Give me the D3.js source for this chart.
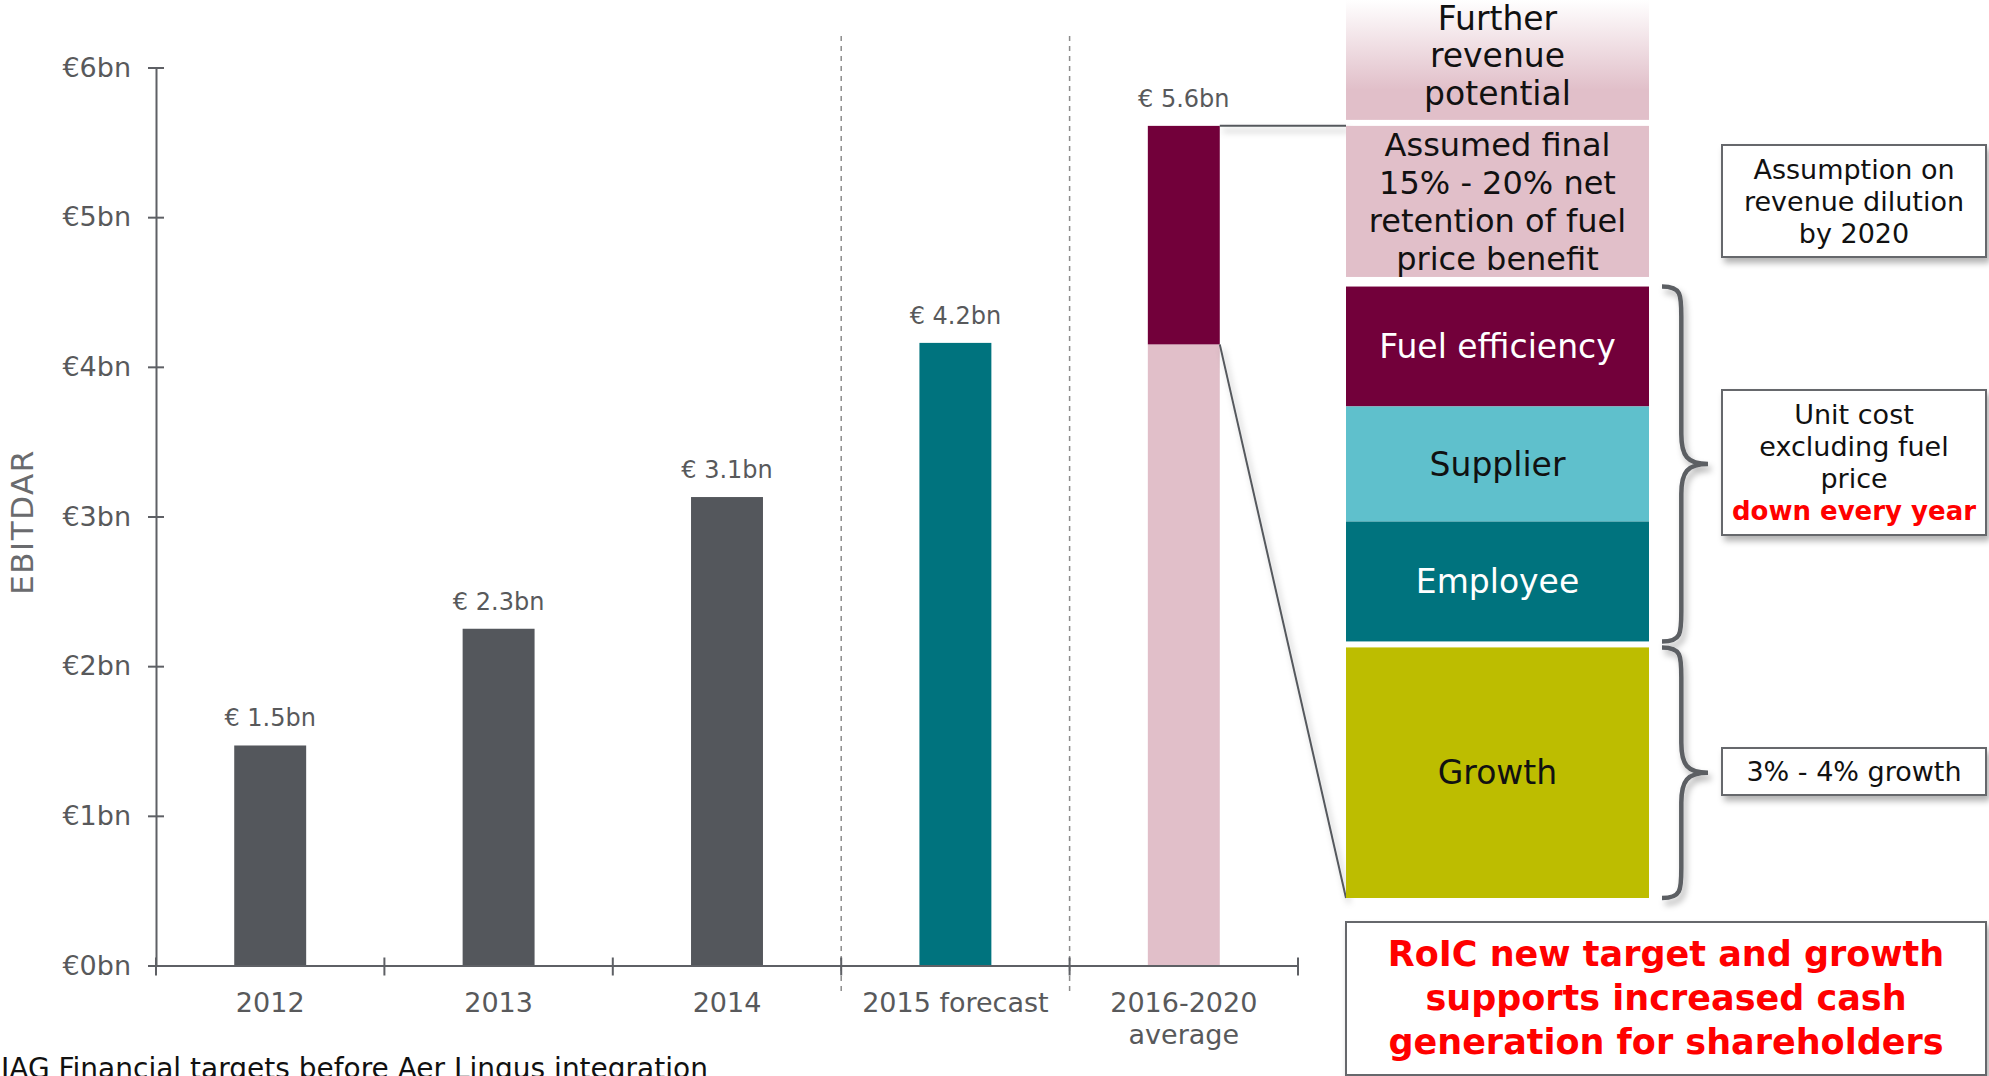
<!DOCTYPE html>
<html>
<head>
<meta charset="utf-8">
<script src="https://cdn.jsdelivr.net/npm/d3@7"></script>
<style>
  body { margin: 0; background: #fff; }
  svg { display: block; font-family: "DejaVu Sans", sans-serif; }
</style>
</head>
<body>
<svg id="chart" width="1989" height="1076"></svg>
<script>
// ---- data ----
const categories = ["2012", "2013", "2014", "2015 forecast", "2016-2020\naverage"];
const baseValues = [1.47, 2.25, 3.13, 4.16, 4.15];   // EBITDAR, €bn
const fuelBenefit = [0, 0, 0, 0, 1.46];              // stacked on top of last bar
const valueLabels = ["€ 1.5bn", "€ 2.3bn", "€ 3.1bn", "€ 4.2bn", "€ 5.6bn"];
const yTicks = [0, 1, 2, 3, 4, 5, 6];

const panelLabels = [
  ["Further", "revenue", "potential"],
  ["Assumed final", "15% - 20% net", "retention of fuel", "price benefit"],
  ["Fuel efficiency"],
  ["Supplier"],
  ["Employee"],
  ["Growth"]
];
const panelUnits = [1, 1.26, 1, 0.96, 1, 2.09];   // relative row heights
const panelGapUnits = [0.05, 0.08, 0, 0, 0.05];

const noteLines = [
  [{t: "Assumption on"}, {t: "revenue dilution"}, {t: "by 2020"}],
  [{t: "Unit cost"}, {t: "excluding fuel"}, {t: "price"}, {t: "down every year", red: true}],
  [{t: "3% - 4% growth"}]
];
const summaryLines = ["RoIC new target and growth", "supports increased cash", "generation for shareholders"];
const footnote = "IAG Financial targets before Aer Lingus integration";

// ---- styling ----
const C = {
  gray: "#54575c", teal: "#00737e", maroon: "#72003a", pink: "#e1bfc9",
  blue: "#5fc0cc", green: "#bdbd00", axis: "#5e6065", text: "#58595b", red: "#ff0000"
};
const baseColors = [C.gray, C.gray, C.gray, C.teal, C.pink];
const panelFills = ["url(#fadePink)", C.pink, C.maroon, C.blue, C.teal, C.green];
const panelText = ["#111", "#111", "#fff", "#111", "#fff", "#111"];

const svg = d3.select("#chart");
const defs = svg.append("defs");

const grad = defs.append("linearGradient").attr("id", "fadePink")
  .attr("x1", 0).attr("y1", 0).attr("x2", 0).attr("y2", 1);
grad.append("stop").attr("offset", "0%").attr("stop-color", "#ffffff");
grad.append("stop").attr("offset", "75%").attr("stop-color", C.pink);
grad.append("stop").attr("offset", "100%").attr("stop-color", C.pink);

const shadow = defs.append("filter").attr("id", "shadow")
  .attr("x", "-10%").attr("y", "-10%").attr("width", "130%").attr("height", "140%");
shadow.append("feDropShadow").attr("dx", 3).attr("dy", 5).attr("stdDeviation", 3)
  .attr("flood-color", "#000").attr("flood-opacity", 0.3);

// ---- scales ----
const x = d3.scaleBand().domain(categories).range([156, 1298])
  .paddingInner(0.685).paddingOuter(0.3425);
const y = d3.scaleLinear().domain([0, 6]).range([965.5, 67.5]);

// ---- separators ----
const bounds = d3.range(categories.length + 1).map(i => x.range()[0] + i * x.step());
svg.selectAll("line.sep").data([bounds[3], bounds[4]]).join("line")
  .attr("class", "sep")
  .attr("x1", d => d).attr("x2", d => d)
  .attr("y1", 36).attr("y2", 996)
  .attr("stroke", "#8c8c8c").attr("stroke-width", 1.5).attr("stroke-dasharray", "5,5");

// ---- bars ----
svg.selectAll("rect.bar").data(categories).join("rect")
  .attr("class", "bar")
  .attr("x", d => x(d))
  .attr("y", (d, i) => y(baseValues[i]))
  .attr("width", x.bandwidth())
  .attr("height", (d, i) => y(0) - y(baseValues[i]))
  .attr("fill", (d, i) => baseColors[i]);

svg.selectAll("rect.top").data(categories.filter((d, i) => fuelBenefit[i] > 0)).join("rect")
  .attr("class", "top")
  .attr("x", d => x(d))
  .attr("y", d => { const i = categories.indexOf(d); return y(baseValues[i] + fuelBenefit[i]); })
  .attr("width", x.bandwidth())
  .attr("height", d => { const i = categories.indexOf(d); return y(baseValues[i]) - y(baseValues[i] + fuelBenefit[i]); })
  .attr("fill", C.maroon);

svg.selectAll("text.val").data(categories).join("text")
  .attr("class", "val")
  .attr("x", d => x(d) + x.bandwidth() / 2)
  .attr("y", (d, i) => y(baseValues[i] + fuelBenefit[i]) - 19)
  .attr("text-anchor", "middle")
  .attr("font-size", 24).attr("fill", C.text)
  .text((d, i) => valueLabels[i]);

// ---- axes ----
const yAxis = svg.append("g").attr("transform", "translate(156,0)")
  .call(d3.axisLeft(y).tickValues(yTicks).tickFormat(d => `€${d}bn`)
    .tickSize(8).tickSizeOuter(0).tickPadding(17));
yAxis.selectAll(".tick").append("line").attr("x2", 8);
yAxis.selectAll("line, path").attr("stroke", C.axis).attr("stroke-width", 2);
yAxis.selectAll("text").attr("font-size", 27).attr("fill", C.text)
  .attr("font-family", "DejaVu Sans, sans-serif");

const xAxis = svg.append("g").attr("transform", `translate(0,${y(0)})`)
  .call(d3.axisBottom(x).tickSize(0).tickSizeOuter(0));
xAxis.select(".domain").attr("stroke", C.axis).attr("stroke-width", 2);
xAxis.selectAll(".tick text").each(function (d) {
  const t = d3.select(this).text(null)
    .attr("y", 0).attr("dy", null)
    .attr("font-size", 27).attr("fill", C.text)
    .attr("font-family", "DejaVu Sans, sans-serif");
  d.split("\n").forEach((line, k) => {
    t.append("tspan").attr("x", 0).attr("y", 46 + k * 32).text(line);
  });
});
xAxis.selectAll("line.bound").data(bounds).join("line")
  .attr("class", "bound")
  .attr("x1", d => d).attr("x2", d => d)
  .attr("y1", -8).attr("y2", 10)
  .attr("stroke", C.axis).attr("stroke-width", 2);

svg.append("text")
  .attr("transform", "translate(22,522) rotate(-90)")
  .attr("text-anchor", "middle").attr("dominant-baseline", "central")
  .attr("font-size", 31).attr("letter-spacing", 1.5).attr("fill", "#6a6b6e")
  .text("EBITDAR");

svg.append("text")
  .attr("x", 1).attr("y", 1078)
  .attr("font-size", 28).attr("fill", "#111")
  .text(footnote);

// ---- right-hand breakdown panel ----
const panelX = 1346, panelW = 303;
const unitTotal = d3.sum(panelUnits) + d3.sum(panelGapUnits);
const py = d3.scaleLinear().domain([0, unitTotal]).range([0, 898]);
let acc = 0;
const rows = panelUnits.map((u, i) => {
  const r = {top: py(acc), bottom: py(acc + u), lines: panelLabels[i], fill: panelFills[i], color: panelText[i]};
  acc += u + (panelGapUnits[i] || 0);
  return r;
});

const li = categories.length - 1;
const lastCat = categories[li];
const barRight = x(lastCat) + x.bandwidth();
const growthRow = rows[rows.length - 1];

svg.append("g").attr("filter", "url(#shadow)")
  .selectAll("line").data([
    [barRight, y(baseValues[li] + fuelBenefit[li]), panelX, y(baseValues[li] + fuelBenefit[li])],
    [barRight, y(baseValues[li]), panelX, growthRow.bottom]
  ]).join("line")
  .attr("x1", d => d[0]).attr("y1", d => d[1]).attr("x2", d => d[2]).attr("y2", d => d[3])
  .attr("stroke", "#55585d").attr("stroke-width", 2);

const rowG = svg.selectAll("g.row").data(rows).join("g").attr("class", "row");
rowG.append("rect")
  .attr("x", panelX).attr("y", d => d.top)
  .attr("width", panelW).attr("height", d => d.bottom - d.top)
  .attr("fill", d => d.fill);
rowG.each(function (d, i) {
  const lh = i < 2 ? 38 : 40;
  const fs = i === 1 ? 32 : 33;
  const mid = (d.top + d.bottom) / 2 + (i === 0 ? -4 : 0);
  const t = d3.select(this).append("text")
    .attr("text-anchor", "middle").attr("font-size", fs).attr("fill", d.color);
  d.lines.forEach((line, k) => {
    t.append("tspan").attr("x", panelX + panelW / 2)
      .attr("y", mid + (k - (d.lines.length - 1) / 2) * lh + fs * 0.35)
      .text(line);
  });
});

// ---- braces ----
function bracePath(x0, y1, y2, w) {
  const xs = x0 + w * 0.42, xt = x0 + w, ym = (y1 + y2) / 2, r = 30;
  return `M${x0},${y1} C${xs},${y1} ${xs},${y1 + 8} ${xs},${y1 + r}` +
    ` L${xs},${ym - r} C${xs},${ym - 8} ${xs + 6},${ym} ${xt},${ym}` +
    ` C${xs + 6},${ym} ${xs},${ym + 8} ${xs},${ym + r}` +
    ` L${xs},${y2 - r} C${xs},${y2 - 8} ${xs},${y2} ${x0},${y2}`;
}
const braceSpans = [[rows[2].top, rows[4].bottom], [rows[5].top, rows[5].bottom]];
svg.append("g").attr("filter", "url(#shadow)")
  .selectAll("path").data(braceSpans).join("path")
  .attr("d", d => bracePath(1662, d[0], d[1], 46))
  .attr("fill", "none").attr("stroke", "#5b5e63").attr("stroke-width", 4.5);

// ---- note boxes ----
const noteBoxes = [
  {top: 145, bottom: 257},
  {top: 390, bottom: 535},
  {top: 748, bottom: 795}
];
const noteX = 1722, noteW = 264;
noteBoxes.forEach((b, i) => {
  svg.append("rect").attr("x", noteX).attr("y", b.top)
    .attr("width", noteW).attr("height", b.bottom - b.top)
    .attr("fill", "#fff").attr("stroke", "#66686c").attr("stroke-width", 2)
    .attr("filter", "url(#shadow)");
  const lines = noteLines[i];
  const lh = 32, fs = 27;
  const mid = (b.top + b.bottom) / 2;
  const t = svg.append("text").attr("text-anchor", "middle").attr("font-size", fs);
  lines.forEach((l, k) => {
    t.append("tspan").attr("x", noteX + noteW / 2)
      .attr("y", mid + (k - (lines.length - 1) / 2) * lh + fs * 0.36)
      .attr("fill", l.red ? C.red : "#111")
      .attr("font-weight", l.red ? "bold" : null)
      .attr("font-size", l.red ? 26 : null)
      .text(l.t);
  });
});

// ---- summary box ----
const sumTop = 922, sumBottom = 1075;
svg.append("rect").attr("x", panelX).attr("y", sumTop)
  .attr("width", 1986 - panelX).attr("height", sumBottom - sumTop)
  .attr("fill", "#fff").attr("stroke", "#66686c").attr("stroke-width", 2)
  .attr("filter", "url(#shadow)");
const st = svg.append("text").attr("text-anchor", "middle")
  .attr("font-size", 35).attr("font-weight", "bold").attr("fill", C.red);
summaryLines.forEach((l, k) => {
  st.append("tspan").attr("x", (panelX + 1986) / 2)
    .attr("y", (sumTop + sumBottom) / 2 + (k - 1) * 44 + 11)
    .text(l);
});
</script>
</body>
</html>
